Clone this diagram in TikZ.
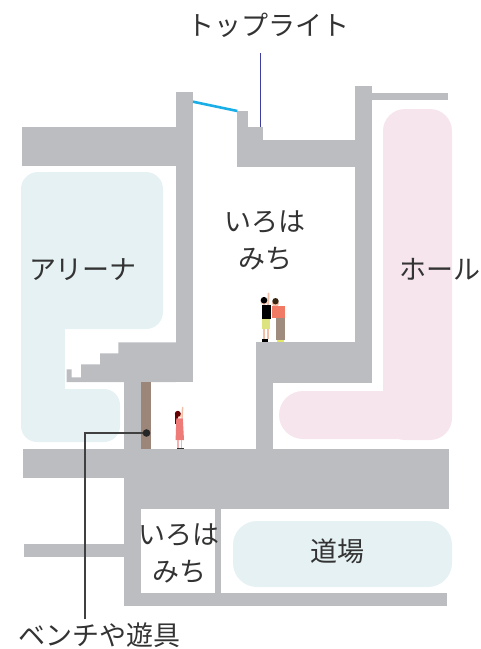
\documentclass[tikz,border=0pt]{standalone}
\usepackage{fontspec}
\setmainfont{Noto Sans CJK JP}
\definecolor{wall}{HTML}{BCBDC1}
\definecolor{arena}{HTML}{E6F1F3}
\definecolor{hall}{HTML}{F6E5ED}
\definecolor{bench}{HTML}{9C867A}
\definecolor{glass}{HTML}{1AAEE6}
\definecolor{skylead}{HTML}{3C3FA0}
\definecolor{ink}{HTML}{333333}
\definecolor{skin}{HTML}{F2BFA8}
\definecolor{coral}{HTML}{F07A63}
\definecolor{lime}{HTML}{DCE37F}
\definecolor{taupe}{HTML}{A08C7F}
\definecolor{dress}{HTML}{EF7B79}
\tikzset{
  label/.style={text=ink, font=\fontsize{27}{37}\selectfont, inner sep=0pt, align=center},
  leader/.style={draw=#1, line width=1.3pt},
}
\begin{document}
\begin{tikzpicture}[x=1pt,y=-1pt]
\useasboundingbox (0,0) rectangle (481,649);

% room fills
\fill[arena, rounded corners=17] (21,172) rectangle (163,329);
\fill[arena, rounded corners=16] (21,389) rectangle (120,442);
\fill[arena] (21,310) rectangle (65,410);
\fill[arena, rounded corners=24] (233,521) rectangle (452,587);
\fill[hall, rounded corners=22] (383,109) rectangle (452,440);
\fill[hall, rounded corners=24] (279,391) rectangle (452,439);

% structure
\fill[wall] (22,127) rectangle (176,166);
\fill[wall] (176,92) rectangle (193,382);
\fill[wall] (237,111) rectangle (248,167);
\fill[wall] (248,127) rectangle (263,167);
\fill[wall] (263,140) rectangle (355,167);
\fill[wall] (355,86) rectangle (372,383);
\fill[wall] (372,93) rectangle (448,99.5);
\fill[wall] (256,342) rectangle (372,383);
\fill[wall] (256,342) rectangle (273,449);
% stairs
\fill[wall] (66.7,382) -- (66.7,369.3) -- (71.7,369.3) -- (71.7,377.3) -- (81,377.3)
  -- (81,364.3) -- (100,364.3) -- (100,353.3) -- (118.3,353.3) -- (118.3,342.3)
  -- (176,342.3) -- (176,382) -- cycle;
\fill[wall] (124,382) rectangle (141,449);
\fill[bench] (141,382) rectangle (151,449);
% lower floors
\fill[wall] (23,449) rectangle (449,478);
\fill[wall] (124,478) rectangle (449,509);
\fill[wall] (124,509) rectangle (141,606);
\fill[wall] (215,509) rectangle (221,593);
\fill[wall] (124,593) rectangle (447,606);
\fill[wall] (24,544) rectangle (124,557);

% skylight glass
\draw[glass, line width=2.6pt] (193,101.7) -- (237.3,111);

% people on the upper floor
\draw[skin, line width=1.8pt, line cap=round] (268,307) -- (268.6,293.5);
\fill[skin] (264,301.5) circle (3.4);
\fill[black] (264,300.2) circle (3.3);
\fill[black] (261.5,305) rectangle (271,319);
\fill[lime] (262,319) rectangle (270,329);
\draw[skin, line width=1.5pt] (264,329) -- (264,339) (268,329) -- (268,339);
\fill[black] (261.5,339) rectangle (267.5,342);
\fill[skin] (275.5,303.5) circle (3.5);
\fill[black!70!brown] (275.5,301.2) circle (3.2);
\fill[coral] (272,306) rectangle (284.5,318);
\fill[taupe] (276,318) rectangle (285,339.5);
\fill[lime!80!yellow] (276.5,339.5) rectangle (284,342);

% child on the ground floor
\draw[skin, line width=1.5pt, line cap=round] (182,418) -- (182.6,407.5);
\fill[skin] (178.6,415) circle (2.8);
\fill[red!40!black] (177.8,413.8) circle (3);
\fill[red!40!black] (175.3,414) rectangle (177.8,424);
\fill[dress] (176.3,418.3) -- (182.8,418.3) -- (184,440) -- (175.6,440) -- cycle;
\draw[dress!60!white, line width=1.1pt] (178,440) -- (178,448) (181.5,440) -- (181.5,448);
\fill[black!80] (176.8,447.5) rectangle (183.5,449);

% labels
\node[label] (skylight) at (268,25) {トップライト};
\node[label] (arenaname) at (83,270) {アリーナ};
\node[label] (hallname) at (440,269) {ホール};
\node[label] (pathup) at (265,240) {いろは\\みち};
\node[label] (pathdown) at (179,553) {いろは\\みち};
\node[label] (dojo) at (337,551) {道場};
\node[label, anchor=west] (benchname) at (18,635) {ベンチや遊具};

% leader lines
\coordinate (skytop) at (260.3,53);
\coordinate (skyfoot) at (260.3,127);
\draw[leader=skylead] (skytop) -- (skyfoot);
\coordinate (benchfoot) at (85,619);
\coordinate (benchpt) at (146.5,433);
\draw[leader=black!75] (benchfoot) |- (benchpt);
\fill[black!85] (benchpt) circle (3.8);
\end{tikzpicture}
\end{document}
